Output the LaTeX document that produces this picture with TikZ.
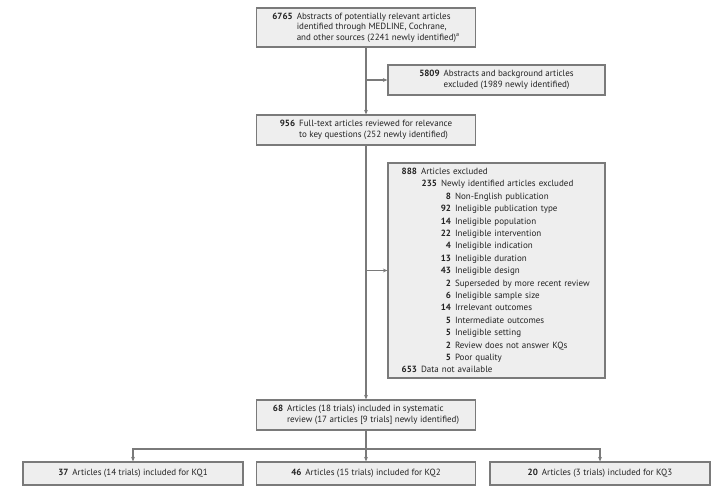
\documentclass[tikz,border=0pt]{standalone}
\usepackage{fontspec}
\setmainfont{PT Sans}
\usetikzlibrary{arrows.meta}
\definecolor{boxfill}{HTML}{EEEEEE}
\definecolor{boxline}{HTML}{7A7A7A}
\definecolor{txt}{HTML}{222222}
\newcommand{\numA}[2]{\hspace{3pt}\makebox[17pt][r]{\bfseries #1}\hspace{4pt}#2}
\newcommand{\numB}[2]{\hspace{23pt}\makebox[17pt][r]{\bfseries #1}\hspace{4pt}#2}
\newcommand{\numC}[2]{\hspace{37pt}\makebox[17pt][r]{\bfseries #1}\hspace{4pt}#2}
\tikzset{
  box/.style={draw=boxline, fill=boxfill, line width=1.2pt, text=txt, inner sep=0pt,
    font=\fontsize{9}{10.5}\selectfont, align=left},
  conn/.style={draw=boxline, line width=1.1pt},
  arr/.style={conn, -{Stealth[length=4.5pt,width=3.8pt]}}
}
\begin{document}
\begin{tikzpicture}[x=1pt,y=-1pt]
\useasboundingbox (0,0) rectangle (722,491);
\node[box, minimum width=219pt, minimum height=39pt] (b1) at (366,27.5)
  {\begin{tabular}{@{}r@{\hspace{4pt}}l@{}}\bfseries 6765 & Abstracts of potentially relevant articles\\
   & identified through MEDLINE, Cochrane,\\ & and other sources (2241 newly identified)\textsuperscript{a}\end{tabular}};
\node[box, minimum width=217pt, minimum height=30pt] (b2) at (496.5,80)
  {\begin{tabular}{@{}r@{\hspace{4pt}}l@{}}\bfseries 5809 & Abstracts and background articles\\
   & excluded (1989 newly identified)\end{tabular}};
\node[box, minimum width=219pt, minimum height=30pt] (b3) at (366,130)
  {\begin{tabular}{@{}r@{\hspace{4pt}}l@{}}\bfseries 956 & Full-text articles reviewed for relevance\\
   & to key questions (252 newly identified)\end{tabular}};
\node[box, minimum width=217pt, minimum height=215pt, text width=199pt,
  font=\fontsize{9}{12.4}\selectfont] (b4) at (496.5,270.5)
  {\numA{888}{Articles excluded}\\
   \numB{235}{Newly identified articles excluded}\\
   \numC{8}{Non-English publication}\\
   \numC{92}{Ineligible publication type}\\
   \numC{14}{Ineligible population}\\
   \numC{22}{Ineligible intervention}\\
   \numC{4}{Ineligible indication}\\
   \numC{13}{Ineligible duration}\\
   \numC{43}{Ineligible design}\\
   \numC{2}{Superseded by more recent review}\\
   \numC{6}{Ineligible sample size}\\
   \numC{14}{Irrelevant outcomes}\\
   \numC{5}{Intermediate outcomes}\\
   \numC{5}{Ineligible setting}\\
   \numC{2}{Review does not answer KQs}\\
   \numC{5}{Poor quality}\\
   \numA{653}{Data not available}};
\node[box, minimum width=219pt, minimum height=30pt] (b5) at (366,415)
  {\begin{tabular}{@{}r@{\hspace{4pt}}l@{}}\bfseries 68 & Articles (18 trials) included in systematic\\
   & review (17 articles [9 trials] newly identified)\end{tabular}};
\node[box, minimum width=220pt, minimum height=23pt] (b6a) at (133,473.5)
  {\textbf{37}\hspace{4pt}Articles (14 trials) included for KQ1};
\node[box, minimum width=219pt, minimum height=23pt] (b6b) at (366,473.5)
  {\textbf{46}\hspace{4pt}Articles (15 trials) included for KQ2};
\node[box, minimum width=220pt, minimum height=23pt] (b6c) at (600,473.5)
  {\textbf{20}\hspace{4pt}Articles (3 trials) included for KQ3};
\coordinate (j1) at (366,80);
\coordinate (j2) at (366,270.5);
\coordinate (split) at (366,449);
\draw[arr] (b1) -- (b3);
\draw[arr] (j1) -- (b2.west);
\draw[arr] (b3) -- (b5);
\draw[arr] (j2) -- (b4.west);
\draw[conn] (b5) -- (split);
\draw[arr] (split) -| (b6a);
\draw[arr] (split) -- (b6b);
\draw[arr] (split) -| (b6c);
\end{tikzpicture}
\end{document}
